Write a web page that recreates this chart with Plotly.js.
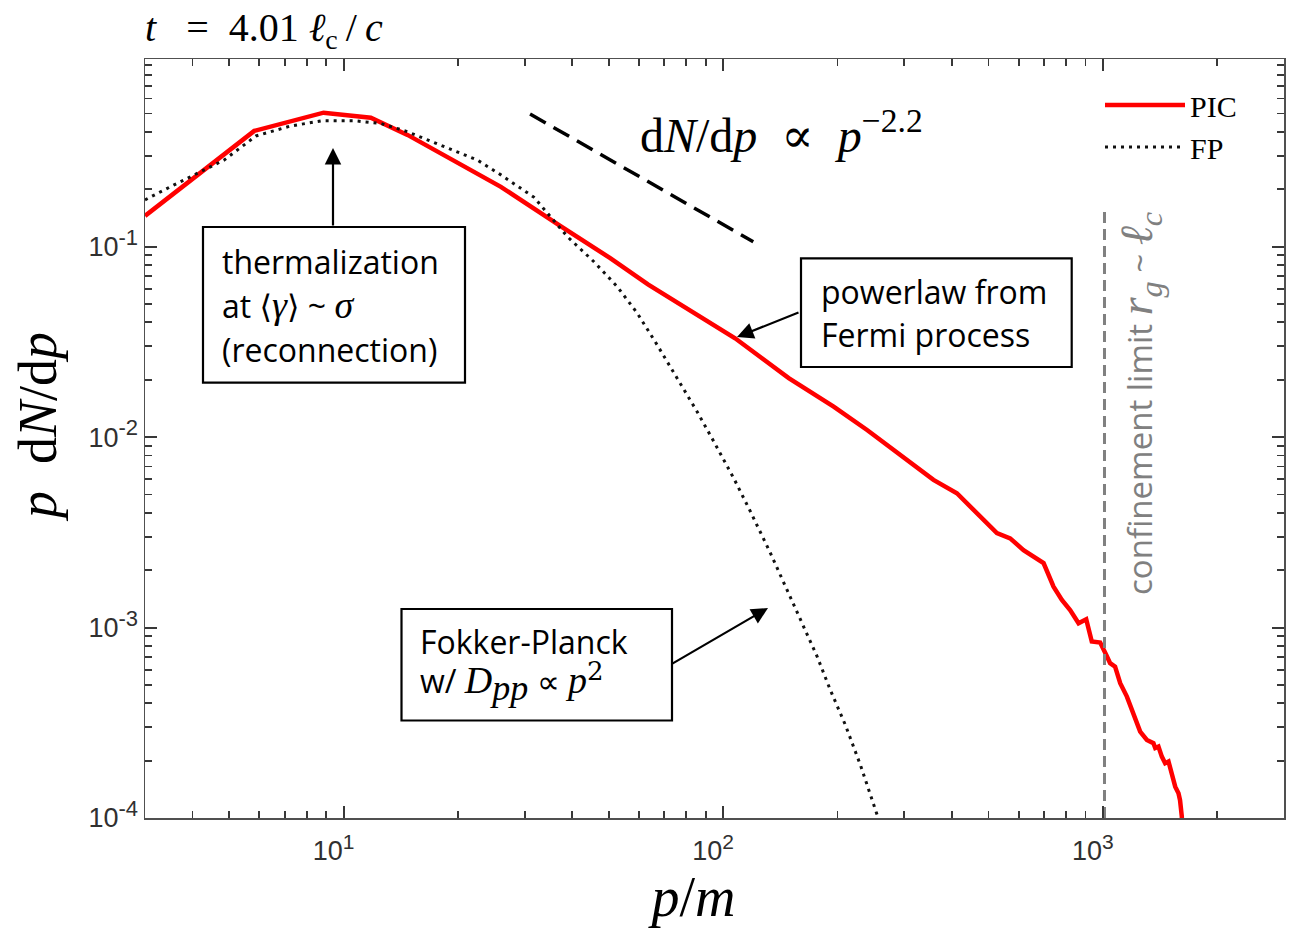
<!DOCTYPE html>
<html><head><meta charset="utf-8">
<script src="https://cdn.plot.ly/plotly-3.0.1.min.js"></script>
<style>body{margin:0;background:#fff}</style>
</head><body><div id="chart" style="width:1294px;height:930px"></div>
<script>
// ---- data ----
const picP = [3, 5.82, 8.86, 11.8, 14.74, 18.0, 22.96, 25.97, 37.3, 50.4, 63.5, 86.0, 107.5, 148.8, 195.4, 239.3, 304.9, 358, 412.7, 466, 526, 570, 618, 698, 741.5, 780, 820, 863, 904, 935, 984, 1021, 1045, 1077, 1111, 1157, 1204, 1254, 1306, 1359, 1374, 1401, 1430, 1459, 1489, 1520, 1551, 1582, 1597, 1614, 1637];
const picY = [0.145, 0.405, 0.505, 0.475, 0.386, 0.310, 0.238, 0.206, 0.128, 0.0870, 0.0632, 0.0434, 0.0330, 0.0204, 0.01445, 0.01089, 0.00759, 0.00596, 0.00507, 0.00398, 0.00313, 0.00294, 0.00255, 0.00218, 0.00164, 0.001396, 0.001236, 0.001054, 0.001106, 0.000844, 0.000834, 0.000718, 0.000650, 0.000624, 0.000510, 0.000434, 0.000355, 0.000284, 0.000257, 0.000247, 0.000233, 0.000237, 0.000210, 0.000194, 0.000198, 0.000172, 0.000146, 0.000135, 0.000124, 0.000102, 0.00005];
const fpP = [3, 3.58, 4.85, 5.88, 7.26, 8.81, 10.67, 12.54, 14.74, 18.0, 22.5, 25.97, 31.7, 38.9, 45.66, 52.6, 59.4, 67.05, 75.7, 85.4, 94.5, 106.6, 118, 133.2, 147.3, 163, 176.8, 191.5, 209.8, 229.8, 247, 256, 262.6];
const fpY = [0.176, 0.211, 0.285, 0.381, 0.430, 0.458, 0.458, 0.443, 0.401, 0.341, 0.285, 0.238, 0.182, 0.1127, 0.0833, 0.0616, 0.0447, 0.0304, 0.02036, 0.01359, 0.00946, 0.00608, 0.00406, 0.002455, 0.001576, 0.00101, 0.000704, 0.00047, 0.000308, 0.00019, 0.000124, 0.0001, 0.000081];
const slopeP = [31, 120];
const slopeY = [0.497, 0.106];
const limitP = [1010, 1010];
const limitY = [1e-4, 0.155];
const xTickVals = [10, 100, 1000];
const xTickExp = ['1', '2', '3'];
const yTickVals = [1e-4, 1e-3, 1e-2, 1e-1];
const yTickExp = ['-4', '-3', '-2', '-1'];
const seriesNames = ['PIC', 'FP'];

// ---- layout helpers ----
const W = 1294, H = 930, ML = 145, MR = 10, MT = 59, MB = 112;
const PW = W - ML - MR, PH = H - MT - MB;
const PX = v => (v - ML) / PW;
const PY = v => (H - MB - v) / PH;
const XR = [Math.log10(3), Math.log10(3000)];
const YR = [-4, -0.015];
const NB = n => '&nbsp;'.repeat(n);

function minorVals(lo, hi) {
  const out = [];
  for (let d = lo; d <= hi; d++) for (let k = 2; k <= 9; k++) out.push(k * Math.pow(10, d));
  return out;
}
const powLabel = (e, sz) => '10<sup><span style="font-size:' + sz + 'px">' + e + '</span></sup>';

const serif = 'Liberation Serif, DejaVu Serif, serif';
const sans = 'Open Sans, Noto Sans, sans-serif';
const axCol = '#505050';
const tkCol = '#383838';

const traces = [
  {x: picP, y: picY, mode: 'lines', name: seriesNames[0], line: {color: '#ff0000', width: 4.5}},
  {x: fpP, y: fpY, mode: 'lines', name: seriesNames[1], line: {color: '#111', width: 3, dash: '3px,5px'}},
  {x: slopeP, y: slopeY, mode: 'lines', showlegend: false, line: {color: '#000', width: 3.5, dash: '18px,9px'}},
  {x: limitP, y: limitY, mode: 'lines', showlegend: false, line: {color: '#808080', width: 3, dash: '11px,6px'}},
  {x: [3], y: [1e-5], xaxis: 'x2', yaxis: 'y2', mode: 'markers', marker: {opacity: 0}, showlegend: false, hoverinfo: 'skip'}
];

function txt(x, y, t, opt) {
  return Object.assign({xref: 'paper', yref: 'paper', x: PX(x), y: PY(y), text: t, showarrow: false,
    xanchor: 'left', yanchor: 'middle', font: {family: sans, size: 32, color: '#000'}}, opt || {});
}
function arrow(hx, hy, tx, ty) {
  return {xref: 'paper', yref: 'paper', x: PX(hx), y: PY(hy), ax: tx - hx, ay: ty - hy, text: '',
    showarrow: true, arrowhead: 2, arrowsize: 1.5, arrowwidth: 2.2, arrowcolor: '#000'};
}
function box(x0, y0, x1, y1) {
  return {type: 'rect', xref: 'paper', yref: 'paper', x0: PX(x0), x1: PX(x1), y0: PY(y1), y1: PY(y0),
    line: {color: '#000', width: 2.2}, fillcolor: 'rgba(0,0,0,0)', layer: 'above'};
}
const mi = (s, sz) => '<span style="font-family:Liberation Serif;font-size:' + (sz || 36) + 'px"><i>' + s + '</i></span>';
const mr = (s, sz) => '<span style="font-family:DejaVu Serif;font-size:' + (sz || 36) + 'px">' + s + '</span>';

const annotations = [
  txt(143, 30, '<i>t</i>' + NB(3) + '=' + NB(2) + '4.01' + NB(1) + '<i>ℓ</i><sub>c</sub>\u2009/\u2009<i>c</i>', {font: {family: serif, size: 40, color: '#000'}}),
  txt(638, 132, 'd<i>N</i>/d<i>p</i>' + NB(2) + '∝' + NB(2) + '<i>p</i><sup>−2.2</sup>', {font: {family: serif, size: 48, color: '#000'}}),
  txt(220, 261, 'thermalization'),
  txt(220, 305, 'at ' + mr('⟨', 32) + mi('γ', 38) + mr('⟩', 32) + ' ~ ' + mi('σ', 38)),
  txt(220, 349, '(reconnection)'),
  txt(819, 291, 'powerlaw from'),
  txt(819, 334, 'Fermi process'),
  txt(418, 641, 'Fokker-Planck'),
  txt(418, 682, 'w/ ' + mi('D', 38) + '<sub>' + mi('pp', 36) + '</sub> ∝ ' + mi('p', 38) + '<sup>' + mr('2', 26) + '</sup>'),
  txt(1140, 404, 'confinement limit ' + mi('r<sub>g</sub>', 46) + ' ~ ' + mi('ℓ<sub>c</sub>', 46),
    {xanchor: 'center', textangle: -90, font: {family: sans, size: 33, color: '#808080'}}),
  arrow(333, 148, 333, 227),
  arrow(737, 337, 800, 312),
  arrow(768, 608, 670, 665)
];

const shapes = [box(203, 227, 465, 382.7), box(801, 258.3, 1071.7, 367), box(401.5, 609, 672, 720.5)];

const axBase = {
  type: 'log', showgrid: false, zeroline: false, showline: true, linecolor: axCol, linewidth: 1.5,
  mirror: 'ticks', ticks: 'inside', ticklen: 12, tickwidth: 2, tickcolor: tkCol, layer: 'above traces',
  tickmode: 'array', tickfont: {family: 'Liberation Sans, sans-serif', size: 27, color: '#303030'}
};
const minorBase = {
  type: 'log', showgrid: false, zeroline: false, showline: true, linecolor: axCol, linewidth: 1.5, showticklabels: false,
  mirror: 'ticks', ticks: 'inside', ticklen: 7, tickwidth: 1.8, tickcolor: tkCol, tickmode: 'array', layer: 'above traces'
};

const layout = {
  width: W, height: H, margin: {l: ML, r: MR, t: MT, b: MB},
  paper_bgcolor: '#fff', plot_bgcolor: 'rgba(0,0,0,0)',
  showlegend: true,
  legend: {x: PX(1100), y: PY(79), xanchor: 'left', yanchor: 'top', bgcolor: 'rgba(0,0,0,0)',
    font: {family: serif, size: 30, color: '#000'}, itemwidth: 80, tracegroupgap: 0},
  xaxis: Object.assign({}, axBase, {
    range: XR, tickvals: xTickVals, ticktext: xTickExp.map(e => powLabel(e, 21)), ticklabelstandoff: 8, ticklabelshift: -10,
    title: {text: '<i>p</i>/<i>m</i>' + NB(3), font: {family: serif, size: 56, color: '#000'}, standoff: 8}
  }),
  yaxis: Object.assign({}, axBase, {
    range: YR, tickvals: yTickVals, ticktext: yTickExp.map(e => powLabel(e, 22)),
    title: {text: NB(2) + '<i>p</i>' + NB(2) + 'd<i>N</i>/d<i>p</i>', font: {family: serif, size: 54, color: '#000'}, standoff: 14}
  }),
  xaxis2: Object.assign({}, minorBase, {overlaying: 'x', anchor: 'y2', side: 'bottom', range: XR,
    tickvals: minorVals(0, 3).filter(v => v >= 3 && v <= 3000)}),
  yaxis2: Object.assign({}, minorBase, {overlaying: 'y', anchor: 'x2', side: 'left', range: YR,
    tickvals: minorVals(-4, -1)}),
  annotations: annotations,
  shapes: shapes
};

Plotly.newPlot('chart', traces, layout, {displayModeBar: false, staticPlot: true});
</script></body></html>
